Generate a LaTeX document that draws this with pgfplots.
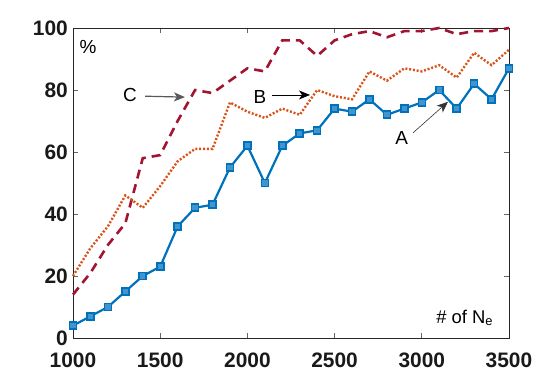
\documentclass[border=0pt]{standalone}
\usepackage{fontspec}
\setmainfont{Liberation Sans}
\usepackage{pgfplots}
\pgfplotsset{compat=1.18}
\usetikzlibrary{arrows.meta}
\definecolor{mblue}{RGB}{0,114,189}
\definecolor{morange}{RGB}{217,83,25}
\definecolor{mred}{RGB}{162,20,47}
\begin{document}
\begin{tikzpicture}
\useasboundingbox (-73bp,-42bp) rectangle (487bp,338bp);
\begin{axis}[
  at={(0,0)}, anchor=south west,
  scale only axis, width=436bp, height=310bp,
  xmin=1000, xmax=3500, ymin=0, ymax=100,
  xtick={1000,1500,2000,2500,3000,3500},
  ytick={0,20,40,60,80,100},
  tick align=inside,
  major tick length=5bp,
  every tick/.style={gray!80!black, line width=0.8pt},
  axis line style={line width=0.9pt, black!85},
  tick label style={font=\fontsize{21}{24}\selectfont\bfseries, text=black!90, inner sep=1bp},
  /pgf/number format/assume math mode=true,
  /pgf/number format/1000 sep={},
  xticklabel style={yshift=-14bp},
  yticklabel style={xshift=-4bp},
  clip=false,
]
\addplot[mred, line width=2.6bp, dash pattern=on 9bp off 6bp] coordinates {
(1000,14)(1100,21)(1200,30)(1300,37)(1400,58)(1500,59)(1600,70)(1700,80)(1800,79)(1900,83)
(2000,87)(2100,86)(2200,96)(2300,96)(2400,91)(2500,96)(2600,98)(2700,99)(2800,97)(2900,99)
(3000,99)(3100,100)(3200,98)(3300,99)(3400,99)(3500,100)};
\addplot[morange, line width=2.4bp, dash pattern=on 2bp off 1.8bp] coordinates {
(1000,20)(1100,29)(1200,36)(1300,46)(1400,42)(1500,49)(1600,57)(1700,61)(1800,61)(1900,76)
(2000,73)(2100,71)(2200,74)(2300,72)(2400,80)(2500,78)(2600,77)(2700,86)(2800,83)(2900,87)
(3000,86)(3100,88)(3200,84)(3300,92)(3400,88)(3500,93)};
\addplot[mblue, line width=2.2bp, mark=square*, mark size=3.5bp,
  mark options={solid, fill=mblue!75!white, draw=mblue, line width=1.6bp}] coordinates {
(1000,4)(1100,7)(1200,10)(1300,15)(1400,20)(1500,23)(1600,36)(1700,42)(1800,43)(1900,55)
(2000,62)(2100,50)(2200,62)(2300,66)(2400,67)(2500,74)(2600,73)(2700,77)(2800,72)(2900,74)
(3000,76)(3100,80)(3200,74)(3300,82)(3400,77)(3500,87)};
\node[font=\fontsize{19}{21}\selectfont] at (axis cs:1327,78.4) {C};
\draw[gray!70!black, line width=1.2bp, -{Stealth[length=11bp,width=9bp,inset=3bp]}] (axis cs:1413,78) -- (axis cs:1642,77.7);
\node[font=\fontsize{19}{21}\selectfont] at (axis cs:2072,77.7) {B};
\draw[black, line width=0.8bp, -{Stealth[length=11bp,width=9bp,inset=3bp]}] (axis cs:2141,78.4) -- (axis cs:2359,78.4);
\node[font=\fontsize{19}{21}\selectfont] at (axis cs:2885,64.4) {A};
\draw[black!80, line width=0.6bp, -{Stealth[length=11bp,width=9bp,inset=3bp]}] (axis cs:2950,66.2) -- (axis cs:3150,76.2);
\node[font=\fontsize{19}{21}\selectfont] at (axis cs:1086,93.9) {\%};
\node[font=\fontsize{18.5}{20}\selectfont, anchor=base east, inner sep=0pt] at (axis cs:3410,4.8) {\# of N\textsubscript{e}};
\end{axis}
\end{tikzpicture}
\end{document}
